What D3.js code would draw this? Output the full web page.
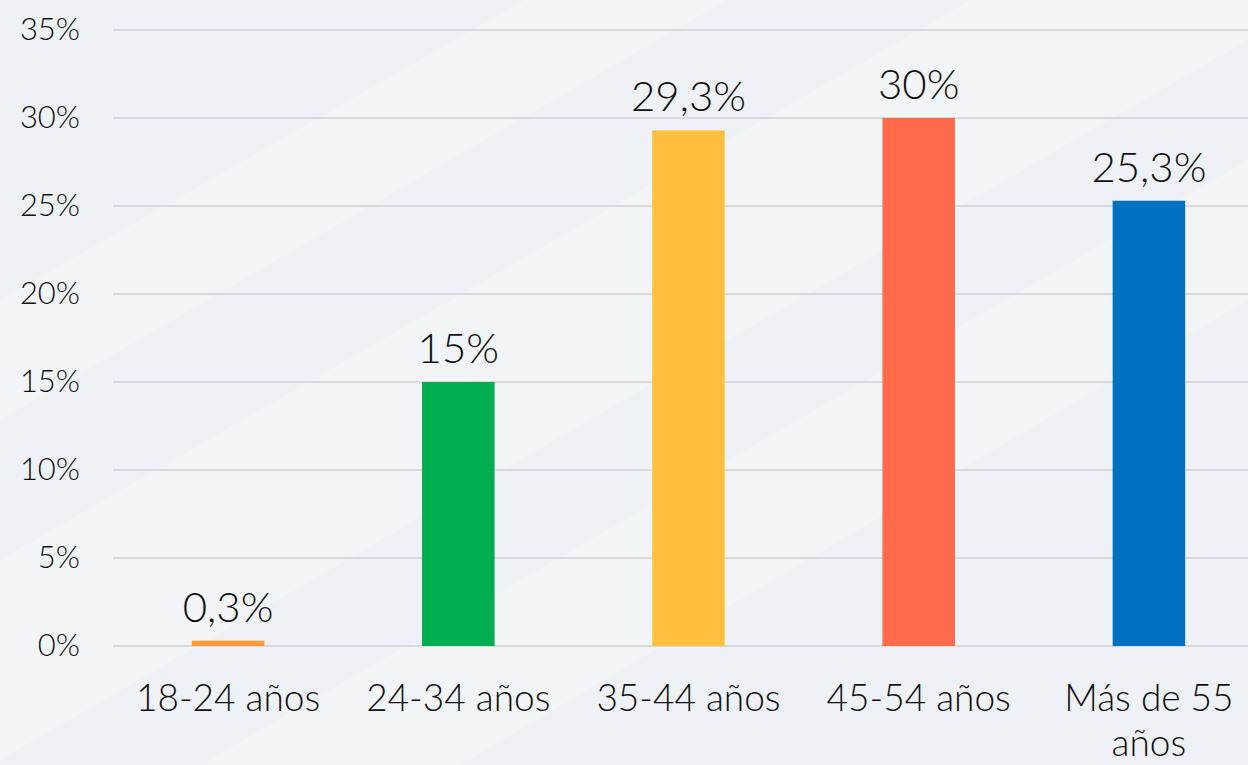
<!doctype html>
<html>
<head>
	<meta charset="utf-8">
	<script src="https://d3js.org/d3.v7.min.js"></script>
	<style>
		html, body { margin: 0; padding: 0; background: #eef2f6; }
		svg { display: block; font-family: Lato, "Noto Sans", sans-serif; font-weight: 300; }
	</style>
</head>
<body>
	<div id="viz">
		<svg style="width:1248px;height:765px;"></svg>
	</div>
	<script>
		var categories = ["18-24 años", "24-34 años", "35-44 años", "45-54 años", "Más de 55 años"];
		var values = [0.3, 15, 29.3, 30, 25.3];
		var barColors = ["#fd9a3a", "#00ae50", "#ffc03f", "#ff6a4b", "#0070c0"];
		var yTicks = [0, 5, 10, 15, 20, 25, 30, 35];

		dataViz();
		function dataViz() {
			var W = 1248, H = 765;
			var margin = {top: 30, right: -16, bottom: 119, left: 113};
			var svg = d3.select("svg");

			// soft diagonal streaks in the background
			var bg = svg.append("g");
			bg.append("rect").attr("width", W).attr("height", H).attr("fill", "#eef2f6");
			var streaks = [
				[[0, 560], [1248, -160], [1248, 40], [0, 760]],
				[[200, 765], [1248, 160], [1248, 300], [460, 765]],
				[[0, 300], [700, -100], [900, -100], [0, 420]]
			];
			bg.selectAll("path.streak").data(streaks).enter()
				.append("path")
				.attr("class", "streak")
				.attr("d", d => "M" + d.join("L") + "Z")
				.attr("fill", "#ffffff")
				.attr("opacity", 0.22);

			var xScale = d3.scaleBand()
				.domain(categories)
				.range([margin.left, 1264])
				.paddingInner(0.685)
				.paddingOuter(0.3425);

			var yScale = d3.scaleLinear()
				.domain([0, 35])
				.range([H - margin.bottom, margin.top]);

			// gridlines
			svg.append("g")
				.selectAll("line")
				.data(yTicks)
				.enter()
				.append("line")
					.attr("x1", margin.left)
					.attr("x2", W)
					.attr("y1", d => yScale(d))
					.attr("y2", d => yScale(d))
					.attr("stroke", "#d9d9d9")
					.attr("stroke-width", 2);

			// y axis labels
			var yAxis = d3.axisLeft(yScale)
				.tickValues(yTicks)
				.tickFormat(d => d + "%")
				.tickSize(0)
				.tickPadding(0);

			var yAxisG = svg.append("g")
				.attr("id", "yAxisG")
				.attr("transform", "translate(80,0)")
				.call(yAxis);
			yAxisG.select(".domain").remove();
			yAxisG.selectAll("text")
				.attr("font-size", 31)
				.attr("fill", "#111")
				.attr("font-family", "Lato, 'Noto Sans', sans-serif");

			// bars
			svg.append("g")
				.selectAll("rect")
				.data(values)
				.enter()
				.append("rect")
					.attr("x", (d, i) => xScale(categories[i]))
					.attr("width", xScale.bandwidth())
					.attr("y", d => yScale(d))
					.attr("height", d => yScale(0) - yScale(d))
					.attr("fill", (d, i) => barColors[i]);

			// value labels
			svg.append("g")
				.selectAll("text")
				.data(values)
				.enter()
				.append("text")
					.attr("x", (d, i) => xScale(categories[i]) + xScale.bandwidth() / 2)
					.attr("y", d => yScale(d) - 19)
					.attr("text-anchor", "middle")
					.attr("font-size", 42)
					.attr("fill", "#111")
					.text(d => String(d).replace(".", ",") + "%");

			// x axis labels
			var xAxis = d3.axisBottom(xScale).tickSize(0).tickPadding(0);
			var xAxisG = svg.append("g")
				.attr("id", "xAxisG")
				.attr("transform", "translate(0," + (H - margin.bottom) + ")")
				.call(xAxis);
			xAxisG.select(".domain").remove();
			xAxisG.selectAll("text")
				.attr("font-size", 37)
				.attr("fill", "#111")
				.attr("font-family", "Lato, 'Noto Sans', sans-serif")
				.attr("y", 65)
				.attr("dy", 0)
				.call(wrap, 215);
		}

		function wrap(texts, width) {
			texts.each(function() {
				var text = d3.select(this);
				var words = text.text().split(/\s+/);
				var y = text.attr("y");
				var line = [];
				var lineNo = 0;
				text.text(null);
				var tspan = text.append("tspan").attr("x", 0).attr("y", y);
				words.forEach(function(w) {
					line.push(w);
					tspan.text(line.join(" "));
					if (tspan.node().getComputedTextLength() > width && line.length > 1) {
						line.pop();
						tspan.text(line.join(" "));
						line = [w];
						lineNo++;
						tspan = text.append("tspan").attr("x", 0).attr("y", +y + lineNo * 45).text(w);
					}
				});
			});
		}
	</script>
</body>
</html>
